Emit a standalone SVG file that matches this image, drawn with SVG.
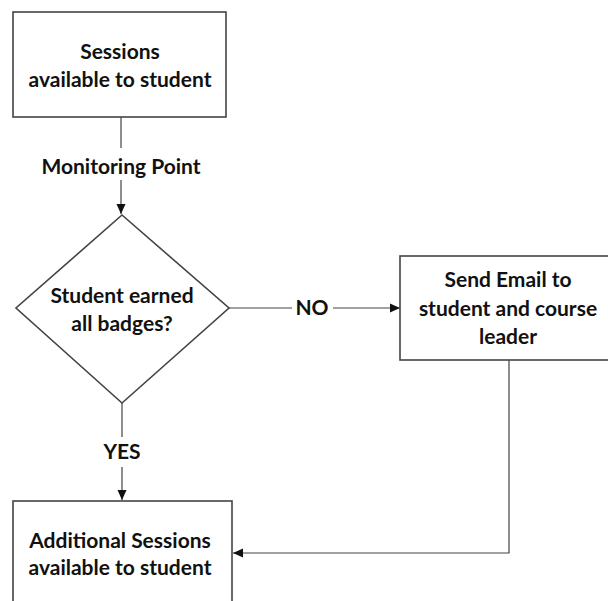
<svg xmlns="http://www.w3.org/2000/svg" width="608" height="601" viewBox="0 0 608 601">
<defs>
<marker id="arr" viewBox="0 0 10 10" refX="10" refY="5" markerWidth="10" markerHeight="10" markerUnits="userSpaceOnUse" orient="auto">
<path d="M0,0.5 L10,5 L0,9.5 Z" fill="#111"/>
</marker>
<style>
.box{fill:#fff;stroke:#444;stroke-width:1.6}
.ln{fill:none;stroke:#444;stroke-width:1.2}
.t{font-family:Lato,"Liberation Sans",sans-serif;font-weight:700;font-size:21px;fill:#111;text-anchor:middle}
</style>
</defs>
<rect width="608" height="601" fill="#fff"/>
<g id="connectors">
<line class="ln" x1="121" y1="117" x2="121" y2="148"/>
<line class="ln" x1="121" y1="180" x2="121" y2="214" marker-end="url(#arr)"/>
<line class="ln" x1="229" y1="308" x2="292" y2="308"/>
<line class="ln" x1="333" y1="308" x2="400" y2="308" marker-end="url(#arr)"/>
<line class="ln" x1="122" y1="403" x2="122" y2="437"/>
<line class="ln" x1="122" y1="467" x2="122" y2="500" marker-end="url(#arr)"/>
<polyline class="ln" points="509,360 509,553 233,553" marker-end="url(#arr)"/>
<text class="t" x="121" y="174">Monitoring Point</text>
<text class="t" x="312" y="315">NO</text>
<text class="t" x="122" y="459">YES</text>
</g>
<g id="sessions">
<rect class="box" x="13" y="12" width="213" height="105"/>
<text class="t" x="120" y="59">Sessions</text>
<text class="t" x="120" y="87">available to student</text>
</g>
<g id="decision">
<polygon class="box" points="122,215 229,308 122,403 16,308"/>
<text class="t" x="122" y="303">Student earned</text>
<text class="t" x="122" y="331">all badges?</text>
</g>
<g id="email">
<rect class="box" x="400" y="256" width="230" height="104"/>
<text class="t" x="508" y="287">Send Email to</text>
<text class="t" x="508" y="316">student and course</text>
<text class="t" x="508" y="344">leader</text>
</g>
<g id="additional">
<rect class="box" x="13" y="501" width="219" height="120"/>
<text class="t" x="120" y="548">Additional Sessions</text>
<text class="t" x="120" y="575">available to student</text>
</g>
</svg>
